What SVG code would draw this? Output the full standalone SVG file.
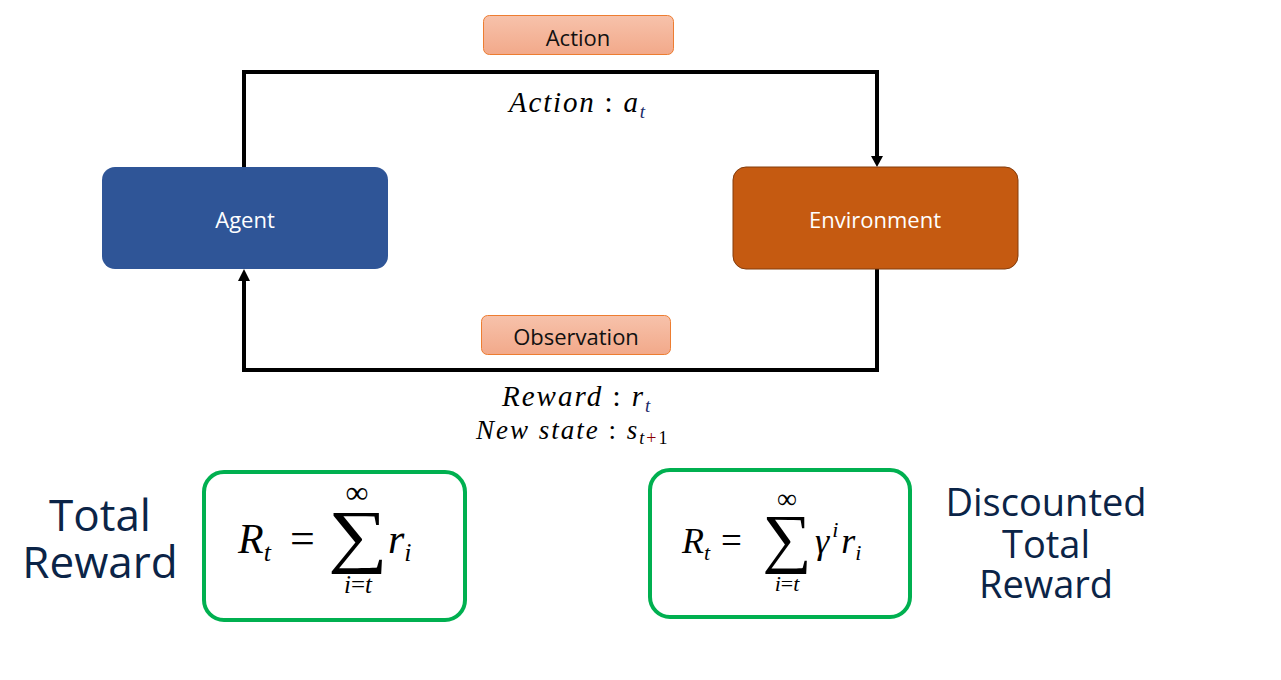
<svg xmlns="http://www.w3.org/2000/svg" width="1281" height="680" viewBox="0 0 1281 680">
<defs>
<linearGradient id="lbl" x1="0" y1="0" x2="0" y2="1"><stop offset="0" stop-color="#F7C2AB"/><stop offset="1" stop-color="#F2A98A"/></linearGradient>
</defs>
<style>
.sans{font-family:"Open Sans","Noto Sans","Liberation Sans",sans-serif}
.math{font-family:"Liberation Serif","DejaVu Serif",serif;font-style:italic}
.mathr{font-family:"Liberation Serif","DejaVu Serif",serif}
.lbl{fill:url(#lbl);stroke:#ED7D31;stroke-width:1}
.conn{fill:none;stroke:#000;stroke-width:4}
.gbox{fill:#fff;stroke:#00B050;stroke-width:4}
.big{fill:#0B2447;font-family:"Open Sans","Noto Sans","Liberation Sans",sans-serif}
</style>
<rect width="1281" height="680" fill="#fff"/>
<g id="connectors">
<path class="conn" d="M244,167 L244,72 L877,72 L877,158"/>
<path d="M871,156 L883,156 L877,167 z" fill="#000"/>
<path class="conn" d="M877,269 L877,370 L244,370 L244,278"/>
<path d="M238,281 L250,281 L244,269 z" fill="#000"/>
</g>
<g id="agent">
<rect x="102" y="167" width="286" height="102" rx="13" fill="#2F5597"/>
<text x="245" y="228" class="sans" font-size="22" fill="#fff" text-anchor="middle">Agent</text>
</g>
<g id="environment">
<rect x="733" y="167" width="285" height="102" rx="13" fill="#C55A11" stroke="#843C0C" stroke-width="1"/>
<text x="875" y="228" class="sans" font-size="22" fill="#fff" text-anchor="middle">Environment</text>
</g>
<g id="action-label">
<rect class="lbl" x="483.5" y="15.5" width="190" height="39" rx="6"/>
<text x="578" y="46" class="sans" font-size="22" fill="#111" text-anchor="middle">Action</text>
</g>
<g id="observation-label">
<rect class="lbl" x="481.5" y="315.5" width="189" height="39" rx="6"/>
<text x="576" y="345" class="sans" font-size="22" fill="#111" text-anchor="middle">Observation</text>
</g>
<g id="action-math">
<text x="509" y="112" class="math" font-size="29" letter-spacing="1.8" fill="#000">Action <tspan font-style="normal">:</tspan> a<tspan font-size="19" dy="6" fill="#1a2a6a">t</tspan></text>
</g>
<g id="observation-math">
<text x="502" y="406" class="math" font-size="29" letter-spacing="2" fill="#000">Reward <tspan font-style="normal">:</tspan> r<tspan font-size="19" dy="6" fill="#1a2a6a">t</tspan></text>
<text x="476" y="439" class="math" font-size="27" letter-spacing="2" fill="#000">New state <tspan font-style="normal">:</tspan> s<tspan font-size="18" dy="5">t</tspan><tspan font-size="18" font-style="normal" fill="#8B0000">+</tspan><tspan font-size="18" font-style="normal">1</tspan></text>
</g>
<g id="total-reward-label">
<text x="100" y="531" class="big" font-size="44" text-anchor="middle">Total</text>
<text x="100" y="578" class="big" font-size="44" text-anchor="middle">Reward</text>
</g>
<g id="total-reward-formula">
<rect class="gbox" x="204" y="472" width="261" height="148" rx="20"/>
<text x="238" y="553" class="math" font-size="42" fill="#000">R<tspan font-size="26" dy="8">t</tspan></text>
<text x="290" y="553" class="mathr" font-size="44" fill="#000">=</text>
<text transform="translate(358,559) scale(1.2,1)" class="mathr" font-size="70" fill="#000" text-anchor="middle">∑</text>
<text x="357" y="503" class="mathr" font-size="32" fill="#000" text-anchor="middle">∞</text>
<text x="358" y="593" class="math" font-size="25" fill="#000" text-anchor="middle">i<tspan font-style="normal">=</tspan>t</text>
<text x="388" y="553" class="math" font-size="42" fill="#000">r<tspan font-size="26" dy="8">i</tspan></text>
</g>
<g id="discounted-formula">
<rect class="gbox" x="650" y="470" width="260" height="147" rx="20"/>
<text x="682" y="553" class="math" font-size="36" fill="#000">R<tspan font-size="22" dy="7">t</tspan></text>
<text x="721" y="553" class="mathr" font-size="37" fill="#000">=</text>
<text transform="translate(787,560) scale(1.05,1)" class="mathr" font-size="66" fill="#000" text-anchor="middle">∑</text>
<text x="787" y="508" class="mathr" font-size="28" fill="#000" text-anchor="middle">∞</text>
<text x="787" y="591" class="math" font-size="22" fill="#000" text-anchor="middle">i<tspan font-style="normal">=</tspan>t</text>
<text x="815" y="553" class="math" font-size="36" fill="#000">γ<tspan font-size="22" dy="-16" dx="3">i</tspan><tspan dy="16" dx="3">r</tspan><tspan font-size="22" dy="7">i</tspan></text>
</g>
<g id="discounted-label">
<text x="1046" y="516" class="big" font-size="38" text-anchor="middle">Discounted</text>
<text x="1046" y="558" class="big" font-size="38" text-anchor="middle">Total</text>
<text x="1046" y="598" class="big" font-size="38" text-anchor="middle">Reward</text>
</g>
</svg>
